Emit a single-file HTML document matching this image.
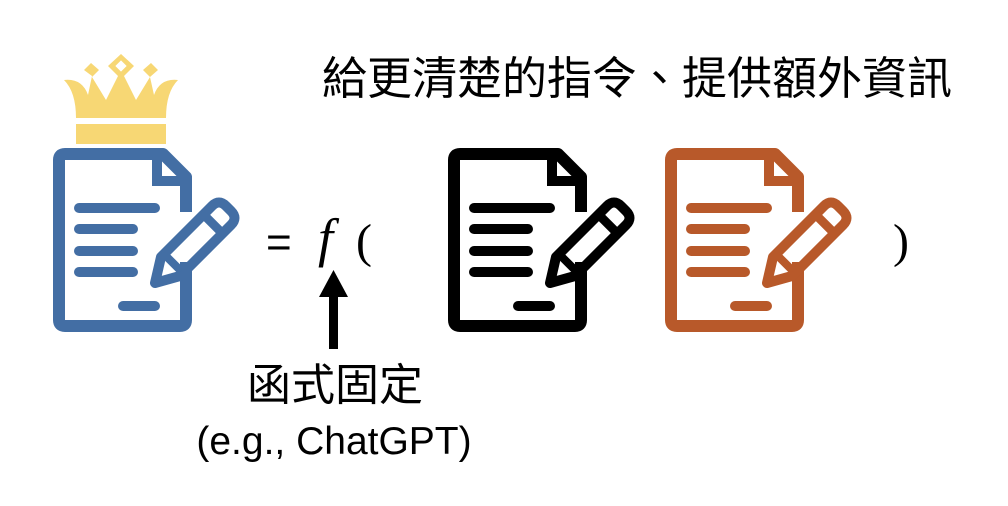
<!DOCTYPE html>
<html><head><meta charset="utf-8"><style>
html,body{margin:0;padding:0;background:#fff;}
svg{display:block}
</style></head><body>
<svg width="1008" height="506" viewBox="0 0 1008 506" xmlns="http://www.w3.org/2000/svg">
<defs>
<g id="doc">
  <path d="M186,212 V177 L163,154 H65 Q59,154 59,160 V320 Q59,326 65,326 H180 Q186,326 186,320 V262" fill="none" stroke-width="12" stroke-linejoin="round"/>
  <path d="M157,152 V181 H190" fill="none" stroke-width="10"/>
  <g stroke-width="10" stroke-linecap="round">
    <line x1="79" y1="208" x2="155" y2="208"/>
    <line x1="79" y1="229" x2="133" y2="229"/>
    <line x1="79" y1="251" x2="133" y2="251"/>
    <line x1="79" y1="272" x2="133" y2="272"/>
    <line x1="123" y1="306" x2="155" y2="306"/>
  </g>
  <path d="M155,283 L161,257 L212,206 Q219,199 226,206 L231,211 Q238,218 231,225 L180,276 Z" fill="none" stroke-width="10" stroke-linejoin="round"/>
  <line x1="204" y1="215" x2="221" y2="232" stroke-width="9"/>
  <line x1="166" y1="256" x2="181" y2="271" stroke-width="8"/>
</g>
</defs>
<!-- crown -->
<g fill="#F7D774">
  <rect x="76" y="124" width="90" height="20"/>
  <path d="M64,80 Q82,78 88,95 L92,76 L84,70 L91,63 L99,70 L92,77 L106,100 L118,76 L108,66 L121,54 L134,66 L124,76 L136,100 L150,77 L143,70 L151,63 L158,70 L150,77 L154,95 Q160,78 178,80 Q166,92 166,118 H76 Q76,92 64,80 Z"/>
</g>
<g fill="#fff"><rect x="117" y="62" width="8" height="8" transform="rotate(45 121 66)"/></g>
<use href="#doc" stroke="#436EA4"/>
<use href="#doc" stroke="#000" transform="translate(395,0)"/>
<use href="#doc" stroke="#B8592A" transform="translate(612,0)"/>
<g font-family="'Liberation Sans','Noto Sans CJK TC',sans-serif" fill="#000">
  <text x="637" y="94" font-size="45" text-anchor="middle">給更清楚的指令、提供額外資訊</text>
  <text x="335" y="400" font-size="44" text-anchor="middle">函式固定</text>
  <text x="334" y="454" font-size="39" text-anchor="middle">(e.g., ChatGPT)</text>
  <text x="266" y="257" font-size="44">=</text>
  <text x="318" y="256" font-size="54" font-style="italic" font-family="'Liberation Serif',serif">f</text>
  <text x="356" y="257" font-size="48" font-family="'Liberation Serif',serif">(</text>
  <text x="893" y="257" font-size="48" font-family="'Liberation Serif',serif">)</text>
</g>
<rect x="329" y="296" width="9" height="53" fill="#000"/>
<polygon points="333.5,270 348,297 319,297" fill="#000"/>
</svg>
</body></html>
